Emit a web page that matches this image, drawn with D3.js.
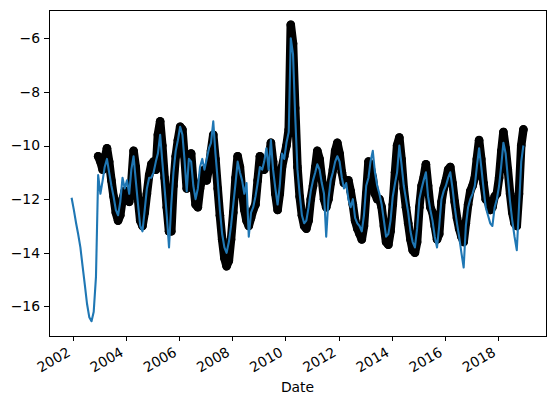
<!DOCTYPE html>
<meta charset="utf-8">
<style>

body { margin: 0; background: #fff; font-family: "DejaVu Sans", sans-serif; }

.axis path,
.axis line {
    fill: none;
    stroke: #000;
    stroke-width: 1;
    shape-rendering: crispEdges;
}
.axis text { font-size: 13.9px; fill: #000; font-family: "DejaVu Sans", sans-serif; }

</style>
<body>

<script src="https://d3js.org/d3.v7.min.js"></script>

<script>

// first month of each series, one value per month after that
var blackStart = "2002-12";
var blueStart = "2001-12";

// black dots (observed)
var blackValues = [
    -10.4,
    -10.6, -10.9, -10.5, -10.1, -10.6, -11.3, -11.9, -12.5, -12.8, -12.6, -12.0, -11.7,  // 2003
    -11.8, -12.1, -11.4, -10.2, -10.8, -12.0, -12.8, -13.0, -12.5, -11.8, -11.1, -10.7,  // 2004
    -10.6, -10.9, -9.6, -9.1, -10.0, -11.2, -12.3, -13.2, -13.2, -11.5, -10.4, -9.8,     // 2005
    -9.3, -9.4, -10.4, -11.6, -10.4, -10.3, -11.4, -12.2, -12.3, -11.6, -11.2, -10.9,   // 2006
    -11.3, -10.8, -10.2, -9.6, -10.5, -11.6, -12.6, -13.5, -14.2, -14.5, -14.3, -13.5,  // 2007
    -12.5, -11.2, -10.4, -10.8, -11.7, -12.4, -12.8, -13.0, -12.7, -12.4, -12.2, -11.3, // 2008
    -10.4, -10.6, -10.9, -10.7, -10.5, -9.9, -10.6, -11.8, -12.4, -11.8, -10.8, -10.4,  // 2009
    -10.0, -9.4, -5.5, -6.2, -8.6, -10.8, -11.9, -12.6, -13.0, -13.1, -12.8, -12.0,     // 2010
    -11.5, -10.8, -10.2, -10.5, -11.2, -12.0, -12.3, -12.0, -11.4, -10.9, -10.2, -9.9,  // 2011
    -10.3, -11.0, -11.4, -11.3, -11.3, -11.7, -12.2, -12.8, -13.1, -13.3, -13.5, -13.0, // 2012
    -11.8, -10.6, -10.8, -11.2, -11.8, -12.0, -12.0, -12.3, -13.0, -13.6, -13.7, -13.2, // 2013
    -12.2, -11.0, -10.0, -9.7, -10.5, -11.6, -12.3, -12.9, -13.5, -13.9, -14.0, -13.6,  // 2014
    -12.3, -11.5, -11.2, -10.7, -11.5, -12.3, -12.5, -13.0, -13.5, -13.3, -12.1, -11.6, // 2015
    -11.3, -10.9, -10.8, -11.4, -12.1, -12.7, -13.1, -13.4, -13.6, -12.9, -12.2, -11.7, // 2016
    -11.5, -11.2, -10.5, -9.8, -10.5, -11.4, -12.0, -12.1, -12.4, -12.3, -11.9, -11.8,  // 2017
    -11.2, -10.2, -9.5, -10.1, -10.9, -11.8, -12.5, -12.9, -13.0, -11.8, -10.0, -9.4    // 2018
];

// blue line (model)
var blueValues = [
    -11.95,
    -12.4, -12.9, -13.3, -13.8, -14.5, -15.2, -15.9, -16.4, -16.55, -16.2, -14.9, -11.1, // 2002
    -11.8, -11.3, -10.8, -10.5, -11.0, -11.5, -11.9, -12.4, -12.6, -12.1, -11.2, -11.6,  // 2003
    -11.3, -11.8, -10.9, -10.4, -11.3, -12.2, -13.0, -13.2, -12.4, -11.6, -11.2, -11.2,  // 2004
    -11.0, -10.6, -10.3, -9.6, -10.6, -11.6, -12.6, -13.8, -12.2, -11.0, -10.2, -9.8,    // 2005
    -9.3, -9.6, -10.5, -11.7, -10.5, -10.6, -11.5, -12.0, -11.6, -10.8, -10.5, -10.9,   // 2006
    -10.5, -10.1, -9.9, -9.1, -10.3, -11.3, -12.4, -13.3, -13.8, -14.0, -13.6, -13.0,   // 2007
    -12.2, -11.4, -10.6, -11.0, -11.3, -11.8, -11.4, -13.4, -12.5, -12.3, -11.9, -11.4, // 2008
    -10.8, -10.9, -10.6, -10.1, -10.9, -9.8, -10.9, -11.6, -12.2, -11.5, -10.3, -10.5,  // 2009
    -9.9, -9.5, -6.0, -6.6, -8.9, -10.9, -11.8, -12.6, -12.9, -12.8, -12.3, -11.7,      // 2010
    -11.3, -11.0, -10.7, -10.9, -11.4, -11.8, -13.4, -12.0, -11.3, -11.0, -10.6, -10.4, // 2011
    -10.6, -11.2, -11.6, -11.4, -12.0, -12.3, -12.0, -12.7, -12.9, -13.0, -13.2, -12.6, // 2012
    -11.5, -11.2, -10.6, -10.2, -11.0, -11.5, -11.8, -12.2, -12.8, -13.4, -13.3, -12.8, // 2013
    -11.9, -11.4, -11.0, -10.0, -10.7, -11.5, -12.0, -12.5, -13.2, -13.6, -13.8, -13.1, // 2014
    -12.0, -11.6, -11.3, -11.0, -11.9, -12.4, -12.8, -13.4, -13.8, -13.0, -12.0, -11.7, // 2015
    -11.5, -11.2, -11.0, -11.6, -12.3, -12.9, -13.4, -14.0, -14.55, -13.0, -12.3, -12.0, // 2016
    -11.8, -11.5, -10.8, -10.1, -10.8, -11.6, -12.3, -12.6, -12.9, -13.0, -12.3, -12.0, // 2017
    -11.5, -10.7, -9.9, -10.3, -11.2, -12.1, -12.8, -13.4, -13.9, -12.3, -10.6, -10.0   // 2018
];

var xTickYears = [2002, 2004, 2006, 2008, 2010, 2012, 2014, 2016, 2018];
var yTicks = [-16, -14, -12, -10, -8, -6];

// Set the dimensions of the canvas / graph
var margin = {top: 10, right: 9, bottom: 69, left: 49},
    width = 555 - margin.left - margin.right,
    height = 405 - margin.top - margin.bottom;

var parseMonth = d3.timeParse("%Y-%m");

function toPoints(start, values) {
    var s = parseMonth(start);
    return values.map(function(v, i) {
        return {date: d3.timeDay.offset(d3.timeMonth.offset(s, i), 14), value: v};
    });
}

var black = toPoints(blackStart, blackValues);
var blue = toPoints(blueStart, blueValues);

// Set the ranges, with matplotlib style 5% margins
var all = black.concat(blue);
var xExt = d3.extent(all, function(d) { return d.date; });
var yExt = d3.extent(all, function(d) { return d.value; });
var xPad = (xExt[1] - xExt[0]) * 0.05;
var yPad = (yExt[1] - yExt[0]) * 0.05;

var x = d3.scaleTime()
    .domain([new Date(+xExt[0] - xPad), new Date(+xExt[1] + xPad)])
    .range([0, width]);
var y = d3.scaleLinear()
    .domain([yExt[0] - yPad, yExt[1] + yPad])
    .range([height, 0]);

var svg = d3.select("body")
    .append("svg")
        .attr("width", width + margin.left + margin.right)
        .attr("height", height + margin.top + margin.bottom)
    .append("g")
        .attr("transform", "translate(" + margin.left + "," + margin.top + ")");

var line = d3.line()
    .x(function(d) { return x(d.date); })
    .y(function(d) { return y(d.value); });

// black dots, joined by a thick stroke so the band stays solid
svg.append("path")
    .datum(black)
    .attr("d", line)
    .attr("fill", "none")
    .attr("stroke", "#000")
    .attr("stroke-width", 8.5)
    .attr("stroke-linejoin", "round")
    .attr("stroke-linecap", "round");

svg.selectAll(".dot")
    .data(black)
  .enter().append("circle")
    .attr("class", "dot")
    .attr("r", 4.3)
    .attr("fill", "#000")
    .attr("cx", function(d) { return x(d.date); })
    .attr("cy", function(d) { return y(d.value); });

svg.append("path")
    .datum(blue)
    .attr("d", line)
    .attr("fill", "none")
    .attr("stroke", "#1f77b4")
    .attr("stroke-width", 2.1)
    .attr("stroke-linejoin", "round");

// axes
var xAxis = d3.axisBottom(x)
    .tickValues(xTickYears.map(function(yr) { return new Date(yr, 0, 1); }))
    .tickFormat(d3.timeFormat("%Y"))
    .tickSize(5)
    .tickSizeOuter(0);

var yAxis = d3.axisLeft(y)
    .tickValues(yTicks)
    .tickFormat(function(d) { return d < 0 ? "\u2212" + Math.abs(d) : d; })
    .tickSize(5)
    .tickSizeOuter(0)
    .tickPadding(4);

svg.append("g")
    .attr("class", "x axis")
    .attr("transform", "translate(0," + height + ")")
    .call(xAxis)
  .selectAll("text")
    .attr("text-anchor", "end")
    .attr("dy", null)
    .attr("y", null)
    .attr("transform", "translate(-2,19) rotate(-30)");

svg.append("g")
    .attr("class", "y axis")
    .call(yAxis);

svg.selectAll(".axis .domain").remove();

// frame
svg.append("rect")
    .attr("x", 0)
    .attr("y", 0)
    .attr("width", width)
    .attr("height", height)
    .attr("fill", "none")
    .attr("stroke", "#000")
    .attr("stroke-width", 1)
    .attr("shape-rendering", "crispEdges");

svg.append("text")
    .attr("text-anchor", "middle")
    .attr("x", width / 2)
    .attr("y", height + 56)
    .style("font-size", "13.9px")
    .text("Date");

</script>
</body>
